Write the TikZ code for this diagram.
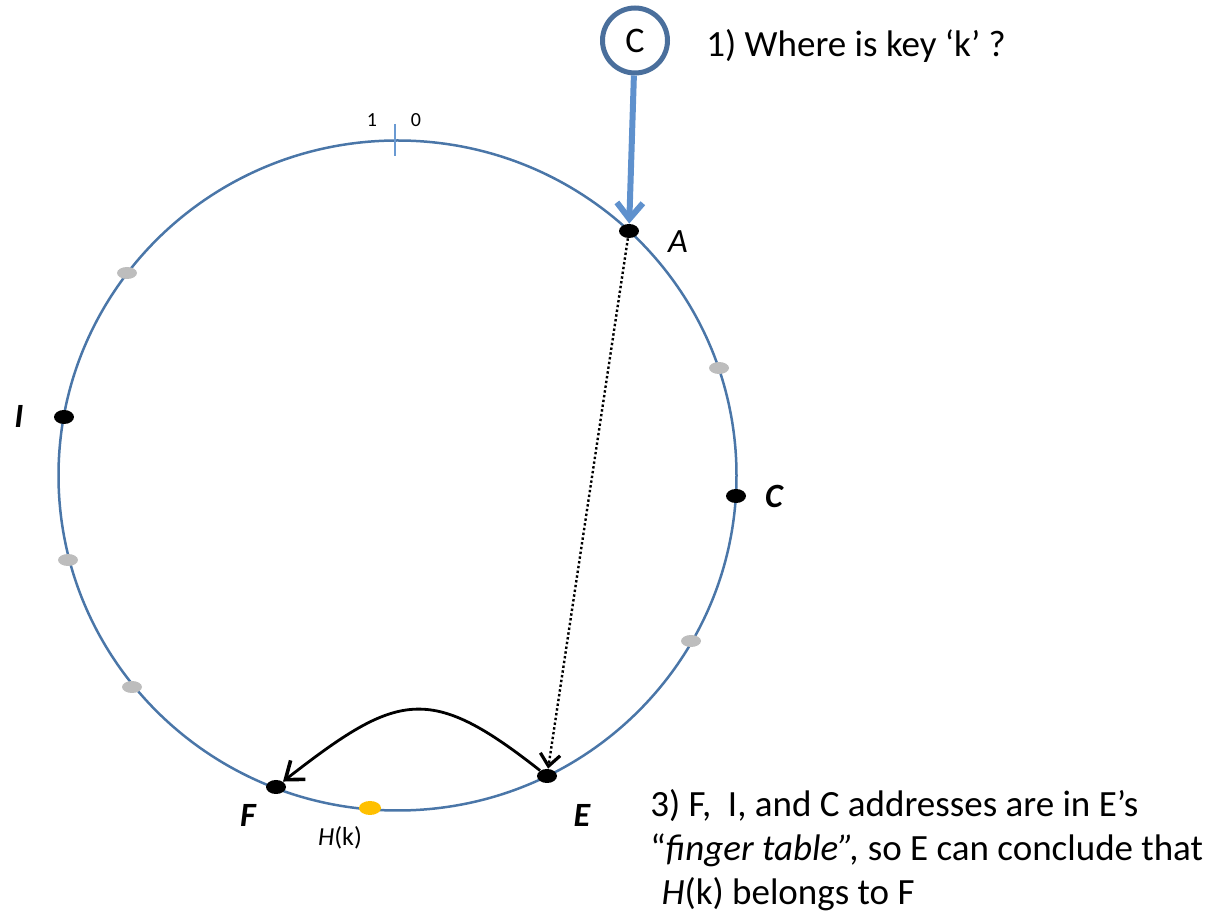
\documentclass[tikz,border=0pt]{standalone}
\usepackage{fontspec}
\setmainfont{Carlito}
\usetikzlibrary{arrows.meta,shapes.geometric}

\definecolor{ringblue}{HTML}{4A76A8}
\definecolor{clientblue}{HTML}{4A6F9C}
\definecolor{lookupblue}{HTML}{5F91CD}
\definecolor{tickblue}{HTML}{6A9AD2}
\definecolor{sparegrey}{HTML}{BDBDBD}
\definecolor{keyyellow}{HTML}{FFC000}

\begin{document}
\begin{tikzpicture}[x=0.5pt,y=-0.5pt,>={Straight Barb}]
    \tikzset{
        peer/.style={ellipse,inner sep=0pt,minimum width=10pt,minimum height=7pt,fill=black},
        spare/.style={peer,fill=sparegrey,minimum height=6pt},
        keydot/.style={peer,fill=keyyellow,minimum width=11pt},
        peerlabel/.style={font=\fontsize{17}{20}\selectfont\bfseries\itshape},
        note/.style={font=\fontsize{18.5}{22}\selectfont,inner sep=0pt},
    }
    \useasboundingbox (0,0) rectangle (1228,914);

    % the ring
    \draw[ringblue,line width=1.25pt] (397.5,475.5) ellipse [x radius=169.5pt,y radius=167.5pt];
    \draw[tickblue,line width=1pt] (395,124) -- (395,156);
    \node[font=\fontsize{10}{12}\selectfont] (one) at (372,120) {1};
    \node[font=\fontsize{10}{12}\selectfont] (zero) at (416,120) {0};

    % nodes on the ring
    \node[peer] (A) at (629,231) {};
    \node[spare] (s1) at (719,368) {};
    \node[peer] (C) at (736,496) {};
    \node[spare] (s2) at (691,641) {};
    \node[peer] (E) at (547,776) {};
    \node[keydot] (Hk) at (370,808) {};
    \node[peer] (F) at (276,787) {};
    \node[spare] (s3) at (132,687) {};
    \node[spare] (s4) at (68,560) {};
    \node[peer] (I) at (64,417) {};
    \node[spare] (s5) at (127,273) {};

    \node[font=\fontsize{17}{20}\selectfont\itshape] (Alabel) at (678,242) {A};
    \node[peerlabel] (Clabel) at (774,496) {C};
    \node[peerlabel] (Ilabel) at (19,416) {I};
    \node[peerlabel] (Flabel) at (248,815) {F};
    \node[peerlabel] (Elabel) at (582,815) {E};
    \node[font=\fontsize{13}{15}\selectfont] (Hklabel) at (340,838) {\textit{H}(k)};

    % client and lookup
    \node[circle,draw=clientblue,line width=2.5pt,minimum size=32.5pt,inner sep=0pt,
          font=\fontsize{18}{21}\selectfont] (client) at (635,40.5) {C};
    \node[note,anchor=base west] (ask) at (706,57) {1) Where is key ‘k’ ?};

    \draw[lookupblue,line width=3pt,-{Straight Barb[length=8pt,width=13pt]}] (client) -- (A);
    \draw[line width=1.2pt,dash pattern=on 1.2pt off 1.2pt,
          -{Straight Barb[length=6pt,width=10pt,line width=1.6pt]}] (A) -- (E);
    \draw[line width=1.4pt,-{Straight Barb[length=8pt,width=12pt,line width=1.8pt]}]
        (E) .. controls (429,683) and (398,692) .. (F);

    \node[note,anchor=north west,align=left] (answer) at (650,789)
        {3) F,~ I, and C addresses are in E’s\\
         “\textit{finger table”,} so E can conclude that\\
         \hspace*{0.3em}\textit{H}(k) belongs to F};
\end{tikzpicture}
\end{document}
